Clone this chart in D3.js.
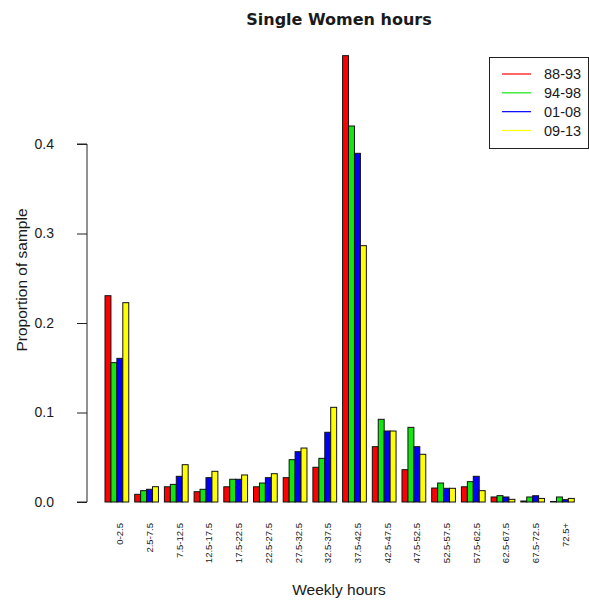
<!DOCTYPE html>
<html>
<head>
<meta charset="utf-8">
<script src="https://cdn.jsdelivr.net/npm/d3@7"></script>
<style>
  html, body { margin: 0; padding: 0; background: #fff; }
  svg { display: block; }
  text { font-family: "Liberation Sans", Arial, sans-serif; fill: #1a1a1a; }
</style>
</head>
<body>
<script>
// Weekly hours bins
const categories = ["0-2.5", "2.5-7.5", "7.5-12.5", "12.5-17.5", "17.5-22.5", "22.5-27.5",
  "27.5-32.5", "32.5-37.5", "37.5-42.5", "42.5-47.5", "47.5-52.5", "52.5-57.5",
  "57.5-62.5", "62.5-67.5", "67.5-72.5", "72.5+"];

// Survey periods
const periods = ["88-93", "94-98", "01-08", "09-13"];
const periodColors = ["#ff0000", "#11e611", "#0000ff", "#ffff00"];

// Proportion of sample in each bin, one array per period
const p8893 = [0.2305, 0.0086, 0.0170, 0.0115, 0.0170, 0.0170, 0.0272, 0.0388,
  0.4987, 0.0618, 0.0361, 0.0156, 0.0170, 0.0056, 0.0011, 0.0006];
const p9498 = [0.1557, 0.0127, 0.0197, 0.0142, 0.0254, 0.0212, 0.0473, 0.0488,
  0.4201, 0.0924, 0.0834, 0.0212, 0.0227, 0.0071, 0.0056, 0.0056];
const p0108 = [0.1605, 0.0142, 0.0287, 0.0272, 0.0254, 0.0272, 0.0562, 0.0779,
  0.3896, 0.0793, 0.0618, 0.0153, 0.0287, 0.0056, 0.0070, 0.0026];
const p0913 = [0.2227, 0.0171, 0.0417, 0.0343, 0.0302, 0.0316, 0.0603, 0.1058,
  0.2864, 0.0793, 0.0533, 0.0153, 0.0127, 0.0030, 0.0040, 0.0040];

const series = [p8893, p9498, p0108, p0913];
const yTicks = [0.0, 0.1, 0.2, 0.3, 0.4];

const W = 589, H = 605;
const svg = d3.select("body").append("svg").attr("width", W).attr("height", H);

// Bars laid out in units: each group is 4 bars wide with a 1-bar gap before it
const nSeries = periods.length;
const groupUnits = nSeries + 1;
const x = d3.scaleLinear().domain([0, categories.length * groupUnits + 1]).range([99.06, 580.2]);
const y = d3.scaleLinear().domain([0, 0.4]).range([502, 144]);

const bars = [];
categories.forEach((c, g) => {
  series.forEach((s, j) => {
    bars.push({ g, j, v: s[g], left: 1 + g * groupUnits + j });
  });
});

svg.append("g").selectAll("rect").data(bars).join("rect")
  .attr("x", d => x(d.left))
  .attr("y", d => y(d.v))
  .attr("width", d => x(d.left + 1) - x(d.left))
  .attr("height", d => y(0) - y(d.v))
  .attr("fill", d => periodColors[d.j])
  .attr("stroke", "#111")
  .attr("stroke-width", 1);

// Y axis
const yAxis = d3.axisLeft(y).tickValues(yTicks).tickFormat(d3.format(".1f")).tickSize(10).tickPadding(23);
const ya = svg.append("g").attr("transform", "translate(87,0)").call(yAxis);
ya.select(".domain").attr("d", `M-10,${y(0.4)}H0V${y(0)}H-10`).attr("stroke", "#222");
ya.selectAll(".tick line").attr("stroke", "#222");
ya.selectAll(".tick text").style("font-family", "Liberation Sans, Arial, sans-serif")
  .style("font-size", "14px").attr("fill", "#222");

// Category labels, rotated
svg.append("g").selectAll("text").data(categories).join("text")
  .attr("transform", (d, g) => {
    const cx = (x(1 + g * groupUnits) + x(1 + g * groupUnits + nSeries)) / 2 + 3;
    return `translate(${cx},523) rotate(-90)`;
  })
  .attr("text-anchor", "end")
  .attr("dominant-baseline", "central")
  .style("font-size", "9.5px")
  .attr("fill", "#333")
  .text(d => d);

// Titles
svg.append("text").attr("x", 339).attr("y", 25).attr("text-anchor", "middle")
  .style("font-family", "DejaVu Sans, Verdana, sans-serif").style("font-weight", "bold")
  .style("font-size", "16px").attr("fill", "#111").text("Single Women hours");

svg.append("text").attr("x", 339).attr("y", 595).attr("text-anchor", "middle")
  .style("font-size", "15.5px").attr("fill", "#222").text("Weekly hours");

svg.append("text").attr("transform", "translate(27,280) rotate(-90)").attr("text-anchor", "middle")
  .style("font-size", "15.5px").attr("fill", "#222").text("Proportion of sample");

// Legend
const lg = svg.append("g");
lg.append("rect").attr("x", 489.5).attr("y", 57.5).attr("width", 99).attr("height", 91)
  .attr("fill", "#fff").attr("stroke", "#222").attr("stroke-width", 1);
const rowY = d3.scaleLinear().domain([0, 3]).range([74, 130.5]);
periods.forEach((p, i) => {
  lg.append("line").attr("x1", 502).attr("x2", 531).attr("y1", rowY(i)).attr("y2", rowY(i))
    .attr("stroke", periodColors[i]).attr("stroke-width", 1.2);
  lg.append("text").attr("x", 544).attr("y", rowY(i)).attr("dominant-baseline", "central")
    .style("font-size", "14.5px").attr("fill", "#222").text(p);
});
</script>
</body>
</html>
